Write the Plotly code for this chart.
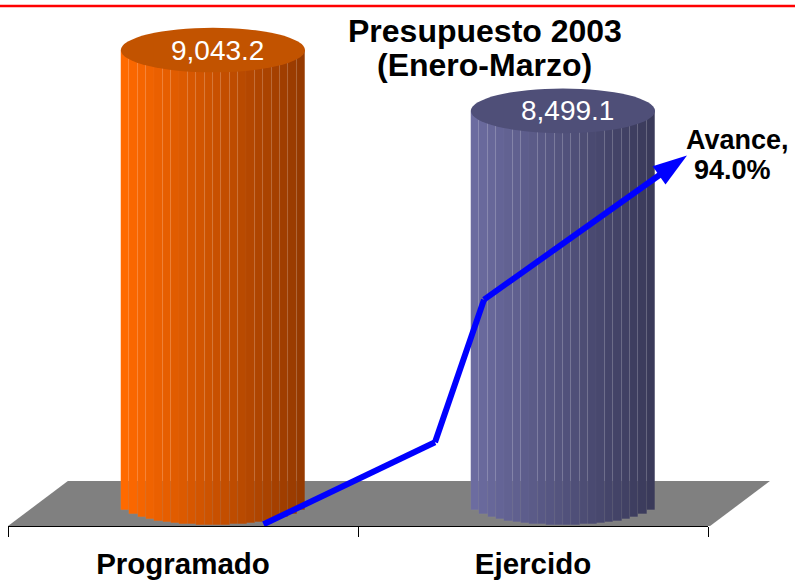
import numpy as np
import plotly.graph_objects as go

# ---------------- data ----------------
categories = ["Programado", "Ejercido"]
values = [9043.2, 8499.1]
value_labels = ["9,043.2", "8,499.1"]
title_lines = ["Presupuesto 2003", "(Enero-Marzo)"]
avance_lines = ["Avance,", "94.0%"]
# decorative "avance" arrow path (x in category units, y in axis units)
avance_x = [0.23, 0.72, 0.86, 1.44]
avance_y = [4800, 5535, 6810, 8100]

# ---------------- styling ----------------
FONT = "Liberation Sans, Arial, sans-serif"
left_cols = [(255, 106, 0), (108, 108, 160)]
right_cols = [(150, 58, 0), (58, 58, 90)]
top_cols = ["#C25300", "#4F4F78"]

X_MIN, X_MAX = -0.5, 1.5
Y_MIN, Y_MAX = 4785, 9491
DEPTH_DX, DEPTH_DY = 0.171, 402
floor_value = Y_MIN + DEPTH_DY / 2
shift = DEPTH_DX / 2
cyl_w = 0.526
rx = cyl_w / 2
ry = 190
N = 22


def paper_x(v):
    return (v - X_MIN) / (X_MAX - X_MIN)


def paper_y(v):
    return (v - Y_MIN) / (Y_MAX - Y_MIN)


def px_x(p):
    return (p - 8) / 700


def px_y(p):
    return 1 - p / 526


fig = go.Figure()

# cylinders made of vertical strips
for i in range(N):
    t = -1 + (2 * i + 1) / N
    frac = i / (N - 1)
    cols = []
    for lc, rc in zip(left_cols, right_cols):
        c = [int(lc[k] + (rc[k] - lc[k]) * frac) for k in range(3)]
        cols.append("rgb(%d,%d,%d)" % tuple(c))
    bottom = floor_value - ry * np.sqrt(max(0.0, 1 - t * t))
    fig.add_trace(go.Bar(
        x=categories,
        y=[v - bottom for v in values],
        base=[bottom, bottom],
        offset=shift - rx + i * cyl_w / N,
        width=cyl_w / N * 1.02,
        marker=dict(color=cols, line=dict(width=0.5, color="rgba(255,255,255,0.07)")),
        showlegend=False, hoverinfo="skip",
    ))

# avance arrow
fig.add_trace(go.Scatter(
    x=avance_x, y=avance_y, mode="lines+markers",
    line=dict(color="#0000FF", width=6),
    marker=dict(symbol=["circle", "circle", "circle", "arrow"],
                size=[0, 0, 0, 36], color="#0000FF", opacity=1, angleref="previous",
                line=dict(width=0)),
    xaxis="x2", showlegend=False, hoverinfo="skip",
))

shapes = []
# floor (paper coords so it may extend past the axis end)
fx = [X_MIN, X_MAX + 0.006, X_MAX + 0.006 + DEPTH_DX, X_MIN + DEPTH_DX]
fy = [Y_MIN, Y_MIN, Y_MIN + DEPTH_DY, Y_MIN + DEPTH_DY]
shapes.append(dict(
    type="path", xref="paper", yref="paper", layer="below",
    path="M " + " L ".join("%.5f,%.5f" % (paper_x(a), paper_y(b)) for a, b in zip(fx, fy)) + " Z",
    fillcolor="#808080", line=dict(width=0),
))
# top ellipses
for idx, v in enumerate(values):
    cx = idx + shift
    shapes.append(dict(type="circle", xref="x", yref="y",
                       x0=cx - rx, x1=cx + rx, y0=v - ry * 1.05, y1=v + ry * 1.05,
                       fillcolor=top_cols[idx], line=dict(width=0)))
# red top rule
shapes.append(dict(type="line", xref="paper", yref="paper",
                   x0=-0.02, x1=1.2, y0=px_y(6), y1=px_y(6),
                   line=dict(color="#FF0000", width=2.5)))

annotations = []
for idx, v in enumerate(values):
    annotations.append(dict(
        x=idx + shift + 0.014, y=v, xref="x", yref="y", text=value_labels[idx],
        showarrow=False, font=dict(family=FONT, size=28, color="white"),
        xanchor="center", yanchor="middle"))
for line, py in zip(title_lines, [31, 65]):
    annotations.append(dict(
        x=px_x(485), y=px_y(py), xref="paper", yref="paper",
        text="<b>%s</b>" % line, showarrow=False,
        font=dict(family=FONT, size=32, color="black"),
        xanchor="center", yanchor="middle"))
for line, px, py in zip(avance_lines, [737, 732], [140, 170]):
    annotations.append(dict(
        x=px_x(px), y=px_y(py), xref="paper", yref="paper",
        text="<b>%s</b>" % line, showarrow=False,
        font=dict(family=FONT, size=27, color="black"),
        xanchor="center", yanchor="middle"))

fig.update_layout(
    width=795, height=585,
    margin=dict(l=8, r=87, t=0, b=59),
    paper_bgcolor="white", plot_bgcolor="white",
    barmode="overlay", bargap=0,
    shapes=shapes, annotations=annotations,
    xaxis=dict(type="category", range=[X_MIN, X_MAX], showline=True, linecolor="black",
               linewidth=1, ticks="outside", ticklen=10, tickcolor="black",
               tickson="boundaries", showgrid=False, zeroline=False,
               ticklabelstandoff=12,
               tickfont=dict(family=FONT, size=29.5, color="black"),
               tickprefix="<b>", ticksuffix="</b>"),
    xaxis2=dict(range=[X_MIN, X_MAX], overlaying="x", visible=False),
    yaxis=dict(range=[Y_MIN, Y_MAX], visible=False),
)

fig.write_html("out.html", config={"displayModeBar": False},
               post_script="document.body.style.margin='0';")
